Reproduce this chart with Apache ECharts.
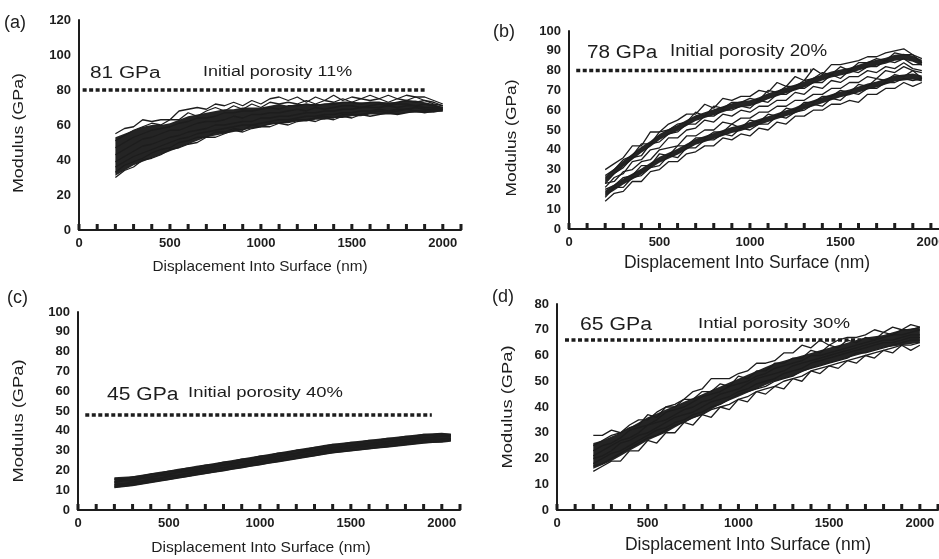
<!DOCTYPE html>
<html><head><meta charset="utf-8">
<script src="https://cdn.jsdelivr.net/npm/echarts@6/dist/echarts.min.js"></script>
<style>html,body{margin:0;padding:0;background:#fff}#c{width:939px;height:559px}</style>
</head><body><div id="c"></div>
<script>
// ---------- data ----------
const xs  = [200,250,300,350,400,450,500,550,600,650,700,750,800,850,900,950,1000,1050,1100,1150,1200,1250,1300,1350,1400,1450,1500,1550,1600,1650,1700,1750,1800,1850,1900,1950,2000];
const xsC = [200,250,300,350,400,450,500,550,600,650,700,750,800,850,900,950,1000,1050,1100,1150,1200,1250,1300,1350,1400,1450,1500,1550,1600,1650,1700,1750,1800,1850,1900,1950,2000,2050];
const xTickLabels = [0,500,1000,1500,2000];
const xTickMarks = [0,100,200,300,400,500,600,700,800,900,1000,1100,1200,1300,1400,1500,1600,1700,1800,1900,2000,2100];

// (a) initial porosity 11%
const aBandLow  = [31,34,37,39,41,43,45,47,49,51,53,54,55,56,57,58,59,60,61,61,62,62,63,63,64,64,65,65,66,66,66,66,67,67,67,67,68];
const aBandHigh = [53,55,57,59,60,60,61,63,65,66,67,68,69,69,70,70,70,71,72,71,72,72,72,72,73,73,73,73,73,73,73,73,74,74,73,72,70];
const a1 = [55,58,59,63,62,63,63,68,69,70,69,72,71,73,71,74,72,75,76,74,76,73,76,74,77,74,76,75,77,75,77,75,77,76,76,74,72];
const a2 = [51,54,57,59,61,60,63,63,67,65,68,70,68,71,69,72,70,73,72,73,72,74,72,74,73,75,73,75,74,75,73,75,74,76,74,73,71];
const a3 = [47,50,53,55,57,58,59,61,62,64,64,65,67,67,68,68,69,70,69,71,71,72,71,72,72,73,73,72,73,73,72,73,74,73,74,72,71];
const a4 = [43,46,49,52,53,55,57,57,59,61,62,62,63,65,64,66,66,67,67,68,69,68,70,69,70,71,71,70,71,72,71,72,72,71,72,71,70];
const a5 = [39,42,45,48,49,51,53,54,56,57,58,60,60,61,62,62,64,64,65,65,66,67,67,68,68,69,69,70,70,70,71,70,71,71,70,70,70];
const a6 = [36,39,42,44,46,48,50,52,53,55,56,57,58,59,60,60,61,62,63,63,64,65,65,66,66,67,67,68,68,69,68,69,69,70,69,69,69];
const a7 = [33,37,39,41,44,46,47,50,51,53,53,56,56,58,57,60,59,61,61,62,63,63,64,65,64,66,66,66,67,68,67,68,69,68,68,69,69];
const a8 = [30,34,36,40,41,43,46,47,49,50,53,53,55,57,56,58,59,59,61,60,62,63,62,64,63,65,64,66,65,66,67,66,67,68,67,68,68];
const refAx = [20,1900], refAy = [80,80];

// (b) initial porosity 20%
const bUpLow  = [23.5,27.5,31.5,35,38.5,41.5,45,47.5,49.5,52,54.5,56,57.5,59,60.5,61.5,62,63.5,65.5,67,68.5,70,71.5,73.5,75,76.5,77.5,78.5,80,81.5,82.5,83.5,85,85.5,84.5,82.5];
const bUpHigh = [26.5,30.5,34.5,38,41.5,44.5,48,50.5,52.5,55,57.5,59,60.5,62,63.5,64.5,65,66.5,68.5,70,71.5,73,74.5,76.5,78,79.5,80.5,81.5,83,84.5,85.5,86.5,88,88.5,87.5,85.5];
const bLoLow  = [16.5,19.5,22.5,25,27.5,30.5,33.5,35.5,37.5,40,42.5,44,45.5,47,48.5,49.5,51,52.5,54,55.5,57,58.5,60.5,62,63.5,65,66.5,67.5,69,70.5,71.5,73,74.5,75,75.5,74.5];
const bLoHigh = [19.5,22.5,25.5,28,30.5,33.5,36.5,38.5,40.5,43,45.5,47,48.5,50,51.5,52.5,54,55.5,57,58.5,60,61.5,63.5,65,66.5,68,69.5,70.5,72,73.5,74.5,76,77.5,78,78.5,77.5];
const bu1 = [30,33,36,42,42,49,49,53,55,58,58,63,61,66,65,67,67,70,69,74,72,77,75,81,78,83,83,84,85,87,87,89,90,91,88,86];
const bu2 = [27,30,35,37,43,43,49,50,53,54,59,57,62,61,64,64,66,65,70,69,72,72,75,76,79,78,82,80,84,84,86,85,89,88,88,84];
const bu3 = [23,28,31,36,37,43,44,48,49,53,53,57,57,60,60,62,61,65,64,68,68,71,71,74,74,78,76,80,79,82,82,85,84,86,83,83];
const bu4 = [21,26,28,34,35,40,41,46,46,50,51,55,54,58,57,60,59,62,62,65,65,69,68,72,71,75,74,77,77,80,79,82,81,84,81,80];
const bl1 = [23,24,29,30,34,35,40,41,42,47,47,50,50,54,53,56,56,59,59,62,62,65,65,68,68,71,71,74,74,77,76,80,79,82,80,79];
const bl2 = [20,22,26,27,32,32,38,37,42,42,46,46,49,49,53,51,55,54,58,57,61,60,64,64,67,67,70,69,73,72,76,75,78,77,80,76];
const bl3 = [16,21,21,26,27,31,32,37,36,41,41,45,45,48,47,51,50,53,53,57,56,59,60,63,62,66,65,69,68,71,71,74,74,76,75,76];
const bl4 = [14,18,19,24,24,29,30,34,34,38,39,42,42,46,45,48,47,51,50,54,53,57,57,60,60,63,63,65,64,68,68,71,71,74,72,74];
const refBx = [40,1340], refBy = [80,80];

// (c) initial porosity 40%
const cBandLow  = [11,11.5,12,12.8,13.5,14.3,15,15.8,16.5,17.3,18,18.8,19.5,20.3,21,21.8,22.5,23.3,24,24.8,25.5,26.3,27,27.8,28.5,29,29.5,30,30.5,31,31.5,32,32.5,33,33.5,33.8,34,34.5];
const cBandHigh = [16.5,16.8,17,17.8,18.5,19.3,20,20.8,21.5,22.3,23,23.8,24.5,25.3,26,26.8,27.5,28.3,29,29.8,30.5,31.3,32,32.8,33.5,34,34.5,35,35.5,36,36.5,37,37.5,38,38.5,38.8,39,38.5];
const c1 = [15.5,15.6,16.5,17,18,18.4,19.5,20,21,21.4,22.5,22.9,24,24.4,25.5,25.9,27,27.4,28.5,28.9,30,30.4,31.5,31.9,33,33.1,34,34.1,35,35.1,36,36.1,37,37.1,38,37.9,38.2,38];
const c2 = [14,14.9,14.9,16.1,16.5,17.6,18,19,19.7,20.3,21.2,21.8,22.7,23.3,24.2,24.8,25.7,26.3,27.1,27.9,28.5,29.5,30,30.9,31.6,32,32.6,33,33.6,34,34.6,35,35.6,36,36.6,36.8,37.2,37.4];
const c3 = [12.8,13.2,14,14.5,15.5,16,17,17.6,18.4,19.2,19.9,20.7,21.4,22.2,22.9,23.7,24.4,25.2,25.9,26.7,27.4,28.2,28.9,29.7,30.4,30.9,31.4,31.9,32.4,32.9,33.4,33.9,34.4,34.9,35.4,35.7,35.9,36.3];
const c4 = [11.7,12.2,12.7,13.5,14.2,15,15.7,16.5,17.2,18,18.7,19.5,20.2,21,21.7,22.5,23.2,24,24.7,25.5,26.2,27,27.7,28.5,29.2,29.7,30.2,30.7,31.2,31.7,32.2,32.7,33.2,33.7,34.2,34.5,34.7,35.5];
const refCx = [40,1945], refCy = [48,48];

// (d) initial porosity 30%
const dBandLow  = [16,17.5,19,21,23,25,27,28.5,30,32,34,35.5,37,39,41,42.5,44,45.5,47,48.5,50,51,52,53.5,55,56,57,58,59,60,61,62,63,63.5,64,64.5,65];
const dBandHigh = [26,27,28.5,30,32,34,36,37.5,39,40.5,42,43.5,45,46.5,48,49.5,51,52.5,54,55.5,57,58,59,60,61,62,63,64,65,66,67,67.5,68,69,70,70.5,71];
const d1 = [29,29,31,30,33,35,35,38,40,41,43,46,47,51,51,51,53,54,57,57,58,61,61,64,63,66,64,66,67,67,68,70,69,71,70,72,71];
const d2 = [25,27,29,30,32,33,37,36,40,40,43,43,46,46,49,48,52,51,54,54,57,57,59,59,62,61,64,63,66,65,67,66,69,68,70,70,71];
const d3 = [23,25,26,28,31,32,33,35,38,39,40,42,44,45,46,48,49,50,52,53,55,56,57,58,60,60,61,62,63,64,65,66,67,68,68,69,70];
const d4 = [21,23,25,27,28,30,33,34,35,37,39,40,42,43,45,46,47,49,51,52,53,54,56,57,58,59,60,61,62,63,64,65,66,66,67,68,68];
const d5 = [20,21,23,26,27,29,30,32,34,36,37,38,40,42,43,44,46,47,49,50,51,53,54,55,57,58,59,60,61,62,63,64,65,65,66,67,67];
const d6 = [18,20,22,23,25,27,29,31,32,34,35,37,38,40,41,43,45,46,47,48,50,51,52,54,55,56,57,58,59,61,61,62,63,64,65,66,66];
const d7 = [17,18,20,22,24,26,28,29,31,33,34,36,37,39,40,41,43,44,46,47,48,50,51,52,54,55,56,57,58,59,60,61,62,63,64,64,65];
const d8 = [15,17,19,19,23,23,27,26,30,30,34,33,37,36,40,39,43,42,46,45,48,47,51,50,54,53,56,55,58,57,60,59,62,61,64,62,64];
const refDx = [44,1980], refDy = [66,66];

// ---------- chart ----------
const INK = '#1d1d1d';
const FONT = 'Arial, "Liberation Sans", sans-serif';
const panels = [
  {grid:{left:79, top:20, width:382, height:210}, yMax:120, yInt:20, xs:xs, band:[[aBandLow,aBandHigh]], curves:[a1,a2,a3,a4,a5,a6,a7,a8], refX:refAx, refY:refAy, lw:1.3},
  {grid:{left:569, top:31, width:380, height:198}, yMax:100, yInt:10, xs:xs, band:[[bUpLow,bUpHigh],[bLoLow,bLoHigh]], curves:[bu1,bu2,bu3,bu4,bl1,bl2,bl3,bl4], refX:refBx, refY:refBy, lw:1.3},
  {grid:{left:78, top:312, width:382, height:198}, yMax:100, yInt:10, xs:xsC, band:[[cBandLow,cBandHigh]], curves:[c1,c2,c3,c4], refX:refCx, refY:refCy, lw:2},
  {grid:{left:557, top:304, width:381, height:206}, yMax:80, yInt:10, xs:xs, band:[[dBandLow,dBandHigh]], curves:[d1,d2,d3,d4,d5,d6,d7,d8], refX:refDx, refY:refDy, lw:1.3}
];

const grids=[], xAxes=[], yAxes=[], series=[];
panels.forEach((p,gi)=>{
  grids.push(Object.assign({outerBoundsMode:'none', containLabel:false}, p.grid));
  xAxes.push({type:'value', gridIndex:gi, min:0, max:2100, interval:100,
    axisLine:{show:true, onZero:false, lineStyle:{color:INK, width:2}},
    axisTick:{show:false},
    axisLabel:{formatter:v=> xTickLabels.indexOf(v)>=0 ? String(v) : '', fontWeight:'bold', fontSize:13, color:INK, fontFamily:FONT, margin:7},
    splitLine:{show:false}});
  yAxes.push({type:'value', gridIndex:gi, min:0, max:p.yMax, interval:p.yInt,
    axisLine:{show:true, onZero:false, lineStyle:{color:INK, width:2}},
    axisTick:{show:false},
    axisLabel:{fontWeight:'bold', fontSize:13, color:INK, fontFamily:FONT, margin:8},
    splitLine:{show:false}});
  // inside tick marks on the x axis, every 100 nm (small squares sitting on the axis)
  series.push({type:'scatter', xAxisIndex:gi, yAxisIndex:gi, silent:true, z:6, clip:false,
    data:xTickMarks.map(v=>[v,0]),
    symbol:'rect', symbolSize:[3,6], symbolOffset:[0,-3],
    itemStyle:{color:INK, opacity:1}});
  series.push({type:'line', xAxisIndex:gi, yAxisIndex:gi, silent:true, showSymbol:false, z:1,
    data:p.refX.map((x,i)=>[x,p.refY[i]]),
    lineStyle:{color:INK, width:3.5, type:[4,2.5]}});
  p.band.forEach(([lo,hi])=>{
    series.push({type:'custom', xAxisIndex:gi, yAxisIndex:gi, silent:true, z:2, data:[[0,0]],
      renderItem:(params, api)=>{
        const pts=[];
        for(let i=0;i<lo.length;i++) pts.push(api.coord([p.xs[i], lo[i]]));
        for(let i=hi.length-1;i>=0;i--) pts.push(api.coord([p.xs[i], hi[i]]));
        return {type:'polygon', shape:{points:pts}, style:{fill:'#242424'}};
      }});
  });
  p.curves.forEach(c=>{
    series.push({type:'line', xAxisIndex:gi, yAxisIndex:gi, silent:true, showSymbol:false, z:3,
      data:c.map((y,i)=>[p.xs[i], y]),
      lineStyle:{color:INK, width:p.lw}});
  });
});

function txt(x,y,text,size,o){
  o=o||{};
  const al=o.align||'left';
  return {type:'text', x:x, y:y, rotation:o.rot||0, scaleX:o.sx||1, scaleY:1, silent:true, z:10,
    style:{text:text, fill:INK, font:(o.w||'normal')+' '+size+'px '+FONT,
      textAlign:al, textVerticalAlign:'middle', align:al, verticalAlign:'middle'}};
}
const R = Math.PI/2;
const graphics = [
  txt(4,23,'(a)',18), txt(493,32,'(b)',18), txt(7,298,'(c)',18), txt(492,297,'(d)',18),
  txt(90,74,'81 GPa',16,{sx:1.3}), txt(203,72,'Initial porosity 11%',14,{sx:1.28}),
  txt(587,53,'78 GPa',18,{sx:1.15}), txt(670,52,'Initial porosity 20%',16,{sx:1.17}),
  txt(107,395,'45 GPa',18,{sx:1.17}), txt(188,393,'Initial porosity 40%',15,{sx:1.23}),
  txt(580,325,'65 GPa',18,{sx:1.18}), txt(698,324,'Intial porosity 30%',15,{sx:1.24}),
  txt(18.5,133,'Modulus (GPa)',15,{rot:R, sx:1.19, align:'center'}),
  txt(512,138,'Modulus (GPa)',15,{rot:R, sx:1.16, align:'center'}),
  txt(19,421,'Modulus (GPa)',15,{rot:R, sx:1.22, align:'center'}),
  txt(508,407,'Modulus (GPa)',15,{rot:R, sx:1.22, align:'center'}),
  txt(260,267,'Displacement Into Surface (nm)',15,{sx:1.02, align:'center'}),
  txt(747,263,'Displacement Into Surface (nm)',17.5,{align:'center'}),
  txt(261,548,'Displacement Into Surface (nm)',15,{sx:1.04, align:'center'}),
  txt(748,545,'Displacement Into Surface (nm)',17.5,{align:'center'})
];

const chart = echarts.init(document.getElementById('c'), null, {renderer:'canvas'});
chart.setOption({animation:false, backgroundColor:'#fff', grid:grids, xAxis:xAxes, yAxis:yAxes, series:series, graphic:graphics});
</script>
</body></html>
